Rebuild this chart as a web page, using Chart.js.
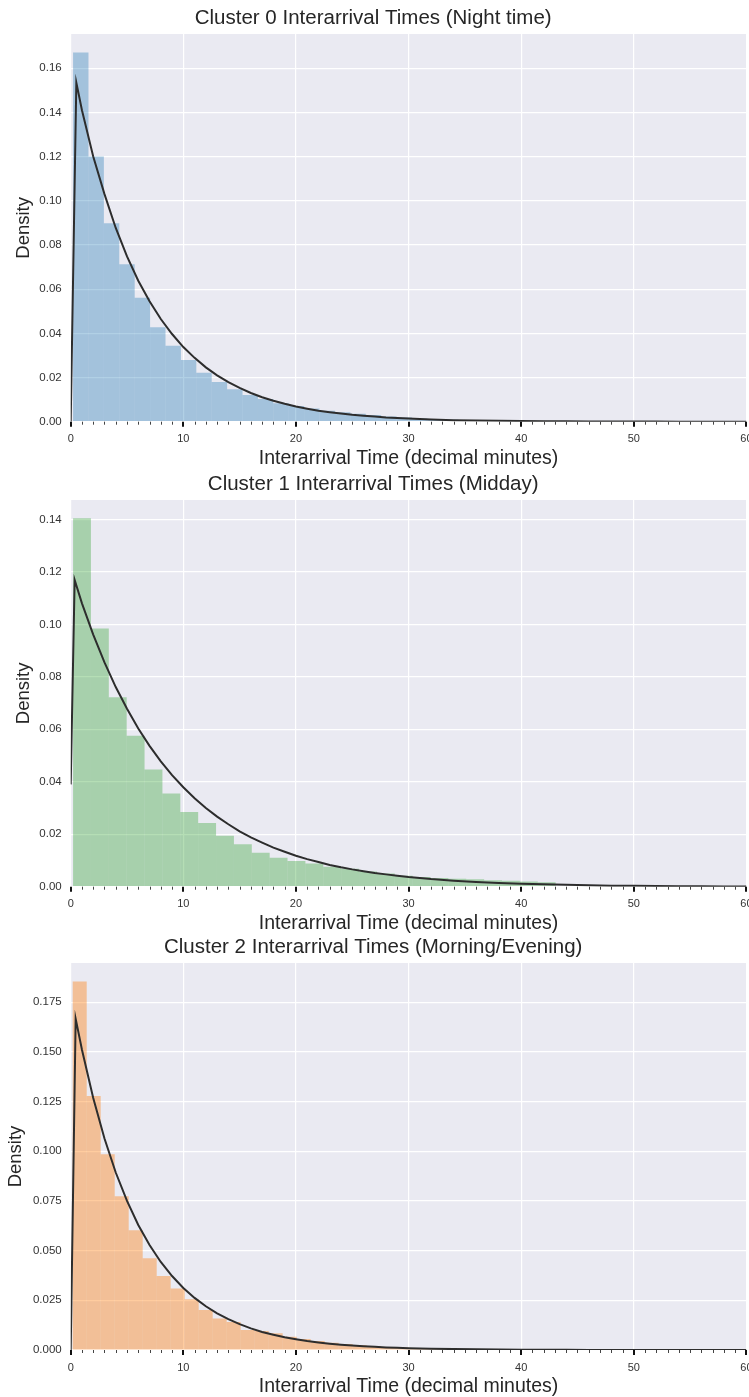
<!DOCTYPE html>
<html>
<head>
<meta charset="utf-8">
<script src="https://cdn.jsdelivr.net/npm/chart.js@4.4.1/dist/chart.umd.min.js"></script>
<style>
    html, body { margin: 0; padding: 0; background: #ffffff; overflow: hidden; }
    #page { position: relative; width: 749px; height: 1397px; overflow: hidden; }
    #page canvas { position: absolute; left: 0; width: 749px; height: 472px; }
</style>
</head>
<body>
<div id="page">
    <canvas id="cluster0" width="749" height="472" style="top:0px"></canvas>
    <canvas id="cluster1" width="749" height="472" style="top:466px"></canvas>
    <canvas id="cluster2" width="749" height="472" style="top:929px"></canvas>
</div>
<script>
// 各群組的標題
const panelTitles = [
    "Cluster 0 Interarrival Times (Night time)",
    "Cluster 1 Interarrival Times (Midday)",
    "Cluster 2 Interarrival Times (Morning/Evening)"
];

// 直方圖：每個 bin 的中心（分鐘）與密度
const binCenters0 = [0.894, 2.262, 3.630, 4.998, 6.366, 7.734, 9.102, 10.470, 11.838, 13.206, 14.574, 15.942, 17.310, 18.678,
    20.046, 21.414, 22.782, 24.150, 25.518, 26.886, 28.254, 29.622, 30.990, 32.358, 33.726, 35.094, 36.462, 37.830];
const binDensity0 = [0.1671, 0.1200, 0.0898, 0.0713, 0.0561, 0.0427, 0.0344, 0.0279, 0.0222, 0.0180, 0.0147, 0.0121, 0.0103, 0.0083,
    0.0071, 0.0060, 0.0050, 0.0043, 0.0036, 0.0030, 0.0024, 0.0019, 0.0015, 0.0012, 0.0009, 0.0006, 0.0004, 0.0003];

const binCenters1 = [1.004, 2.591, 4.178, 5.765, 7.352, 8.939, 10.526, 12.113, 13.700, 15.287, 16.874, 18.461, 20.048, 21.635,
    23.222, 24.809, 26.396, 27.983, 29.570, 31.157, 32.744, 34.331, 35.918, 37.505, 39.092, 40.679, 42.266];
const binDensity1 = [0.1404, 0.0984, 0.0722, 0.0575, 0.0447, 0.0355, 0.0285, 0.0243, 0.0194, 0.0162, 0.0129, 0.0110, 0.0098, 0.0088,
    0.0076, 0.0068, 0.0058, 0.0050, 0.0042, 0.0037, 0.0033, 0.0030, 0.0028, 0.0025, 0.0023, 0.0020, 0.0017];

const binCenters2 = [0.800, 2.043, 3.286, 4.529, 5.772, 7.015, 8.258, 9.501, 10.744, 11.987, 13.230, 14.473, 15.716, 16.959,
    18.202, 19.445, 20.688, 21.931, 23.174, 24.417, 25.660, 26.903, 28.146, 29.389, 30.632, 31.875, 33.118];
const binDensity2 = [0.1854, 0.1278, 0.0985, 0.0774, 0.0603, 0.0462, 0.0372, 0.0310, 0.0255, 0.0201, 0.0158, 0.0141, 0.0100, 0.0095,
    0.0084, 0.0067, 0.0055, 0.0045, 0.0037, 0.0030, 0.0024, 0.0019, 0.0015, 0.0012, 0.0009, 0.0007, 0.0005];

// 擬合的機率密度曲線（x 為分鐘）
const curveX0 = [0, 0.5, 1, 2, 3, 4, 5, 6, 7, 8, 9, 10, 11, 12, 13, 14, 15, 16, 17, 18, 19, 20, 21, 22, 23, 24, 25, 26, 27, 28, 29, 30,
    32, 34, 36, 38, 40, 42, 44, 46, 48, 50, 52, 54, 56, 58, 60];
const curveY0 = [0, 0.1535, 0.141, 0.120, 0.103, 0.0877, 0.0748, 0.0638, 0.0545, 0.0465, 0.0397, 0.0338, 0.0289, 0.0246, 0.0210,
    0.0179, 0.0153, 0.0130, 0.0111, 0.0095, 0.0081, 0.0069, 0.0059, 0.0050, 0.0043, 0.0037, 0.0031, 0.0027, 0.0023, 0.0019, 0.0017,
    0.0014, 0.0010, 0.0007, 0.0005, 0.0004, 0.0003, 0.0002, 0.00015, 0.0001, 0.00008, 0.00006, 0.00004, 0.00003, 0.00002, 0.00002, 0.00001];

const curveX1 = [0, 0.35, 1, 2, 3, 4, 5, 6, 7, 8, 9, 10, 11, 12, 13, 14, 15, 16, 17, 18, 19, 20, 21, 22, 23, 24, 25, 26, 27, 28, 29, 30,
    32, 34, 36, 38, 40, 42, 44, 46, 48, 50, 52, 54, 56, 58, 60];
const curveY1 = [0.039, 0.1169, 0.108, 0.0961, 0.0855, 0.0761, 0.0678, 0.0603, 0.0537, 0.0478, 0.0425, 0.0379, 0.0337, 0.0300, 0.0267,
    0.0238, 0.0211, 0.0188, 0.0168, 0.0149, 0.0133, 0.0118, 0.0105, 0.0094, 0.0083, 0.0074, 0.0066, 0.0059, 0.0052, 0.0047, 0.0042,
    0.0037, 0.0029, 0.0023, 0.0018, 0.0014, 0.0011, 0.0009, 0.0007, 0.0006, 0.0004, 0.0004, 0.0003, 0.0002, 0.0002, 0.0001, 0.0001];

const curveX2 = [0, 0.44, 1, 2, 3, 4, 5, 6, 7, 8, 9, 10, 11, 12, 13, 14, 15, 16, 17, 18, 19, 20, 21, 22, 23, 24, 25, 26, 27, 28, 29, 30,
    32, 34, 36, 38, 40, 42, 44, 46, 48, 50, 52, 54, 56, 58, 60];
const curveY2 = [0, 0.1667, 0.1511, 0.1268, 0.1064, 0.0893, 0.0750, 0.0629, 0.0528, 0.0443, 0.0372, 0.0312, 0.0262, 0.0220, 0.0184,
    0.0155, 0.0130, 0.0109, 0.0091, 0.0077, 0.0064, 0.0054, 0.0045, 0.0038, 0.0032, 0.0027, 0.0023, 0.0019, 0.0016, 0.0013, 0.0011,
    0.0009, 0.00066, 0.00047, 0.00033, 0.00023, 0.00016, 0.00011, 0.00008, 0.00006, 0.00004, 0.00003, 0.00002, 0.00001, 0.00001, 0.00001, 0];

// 座標軸刻度
const xTickLabels = ["0", "10", "20", "30", "40", "50", "60"];
const yTickLabels0 = ["0.00", "0.02", "0.04", "0.06", "0.08", "0.10", "0.12", "0.14", "0.16"];
const yTickLabels1 = ["0.00", "0.02", "0.04", "0.06", "0.08", "0.10", "0.12", "0.14"];
const yTickLabels2 = ["0.000", "0.025", "0.050", "0.075", "0.100", "0.125", "0.150", "0.175"];
const yAxisMax = [0.1755, 0.1474, 0.1947];

const FONT = '"Liberation Sans", Arial, Helvetica, sans-serif';
const TEXT_COLOR = "#262626";
Chart.defaults.font.family = FONT;

// 灰底的繪圖區（seaborn darkgrid 風格）
const plotBackground = {
    id: "plotBackground",
    beforeDraw(chart) {
        const { ctx, chartArea } = chart;
        ctx.save();
        ctx.fillStyle = "#EAEAF2";
        ctx.fillRect(chartArea.left, chartArea.top, chartArea.right - chartArea.left, chartArea.bottom - chartArea.top);
        ctx.restore();
    }
};

// x 軸下方的小刻度（每 1 分鐘）與主刻度（每 10 分鐘）
const axisTickMarks = {
    id: "axisTickMarks",
    afterDraw(chart) {
        const { ctx, chartArea } = chart;
        const xScale = chart.scales.x;
        ctx.save();
        for (let m = 0; m <= 60; m++) {
            const px = xScale.getPixelForValue(m);
            const major = m % 10 === 0;
            ctx.strokeStyle = major ? "#111111" : "#444444";
            ctx.lineWidth = major ? 2 : 1;
            ctx.beginPath();
            ctx.moveTo(Math.round(px) + (major ? 0 : 0.5), chartArea.bottom);
            ctx.lineTo(Math.round(px) + (major ? 0 : 0.5), chartArea.bottom + (major ? 5 : 3));
            ctx.stroke();
        }
        ctx.restore();
    }
};

function drawPanel(canvasId, p) {
    const canvasHeight = 472;
    const xAxisHeight = canvasHeight - p.plotBottom;

    new Chart(document.getElementById(canvasId), {
        type: "line",
        data: {
            datasets: [
                {
                    type: "line",
                    data: p.curveX.map((x, i) => ({ x: x, y: p.curveY[i] })),
                    borderColor: "#2d2d2d",
                    borderWidth: 2,
                    pointRadius: 0,
                    tension: 0,
                    order: 0
                },
                {
                    type: "bar",
                    data: p.binX.map((x, i) => ({ x: x, y: p.binY[i] })),
                    backgroundColor: p.color,
                    borderWidth: 0,
                    inflateAmount: 0,
                    barPercentage: 1,
                    categoryPercentage: 1,
                    order: 1
                }
            ]
        },
        options: {
            responsive: false,
            animation: false,
            devicePixelRatio: 1,
            layout: { padding: { left: 0, right: 2.6, top: 0, bottom: 0 } },
            plugins: {
                legend: { display: false },
                tooltip: { enabled: false },
                title: {
                    display: true,
                    text: p.title,
                    color: TEXT_COLOR,
                    font: { size: 20.5, weight: "normal" },
                    padding: { top: 5.7, bottom: 3.7 }
                }
            },
            scales: {
                x: {
                    type: "linear",
                    min: 0,
                    max: 60,
                    offset: false,
                    border: { display: false },
                    grid: { color: "#ffffff", lineWidth: 1.2, drawTicks: false, offset: false },
                    ticks: { color: "#333333", font: { size: 11 }, padding: 11, maxRotation: 0, autoSkip: false,
                        callback: (value, index) => xTickLabels[index] },
                    afterBuildTicks: (scale) => { scale.ticks = xTickLabels.map((t) => ({ value: Number(t) })); },
                    title: {
                        display: true,
                        text: "Interarrival Time (decimal minutes)",
                        color: TEXT_COLOR,
                        font: { size: 19.5 },
                        padding: { top: 0, bottom: xAxisHeight - 36.5 - 11.7 }
                    },
                    afterFit: (scale) => {
                        scale.height = xAxisHeight;
                        scale.paddingLeft = 0;
                        scale.paddingRight = 0;
                    }
                },
                y: {
                    type: "linear",
                    min: 0,
                    max: p.yMax,
                    border: { display: false },
                    grid: { color: "#ffffff", lineWidth: 1.2, drawTicks: false },
                    ticks: { color: "#333333", font: { size: 11.5 }, padding: 9,
                        callback: (value, index) => p.yLabels[index] },
                    afterBuildTicks: (scale) => { scale.ticks = p.yLabels.map((t) => ({ value: Number(t) })); },
                    title: {
                        display: true,
                        text: "Density",
                        color: TEXT_COLOR,
                        font: { size: 18.5 },
                        padding: { top: p.yTitlePad, bottom: 0 }
                    },
                    afterFit: (scale) => {
                        scale.width = 70.7;
                        scale.paddingTop = 0;
                        scale.paddingBottom = 0;
                    }
                }
            }
        },
        plugins: [plotBackground, axisTickMarks]
    });
}

drawPanel("cluster0", {
    title: panelTitles[0], binX: binCenters0, binY: binDensity0, curveX: curveX0, curveY: curveY0,
    yLabels: yTickLabels0, yMax: yAxisMax[0], color: "rgba(31, 119, 180, 0.35)", plotBottom: 421.7, yTitlePad: 12.9
});
drawPanel("cluster1", {
    title: panelTitles[1], binX: binCenters1, binY: binDensity1, curveX: curveX1, curveY: curveY1,
    yLabels: yTickLabels1, yMax: yAxisMax[1], color: "rgba(44, 160, 44, 0.35)", plotBottom: 420.7, yTitlePad: 12.9
});
drawPanel("cluster2", {
    title: panelTitles[2], binX: binCenters2, binY: binDensity2, curveX: curveX2, curveY: curveY2,
    yLabels: yTickLabels2, yMax: yAxisMax[2], color: "rgba(255, 127, 14, 0.4)", plotBottom: 421, yTitlePad: 4.9
});
</script>
</body>
</html>
